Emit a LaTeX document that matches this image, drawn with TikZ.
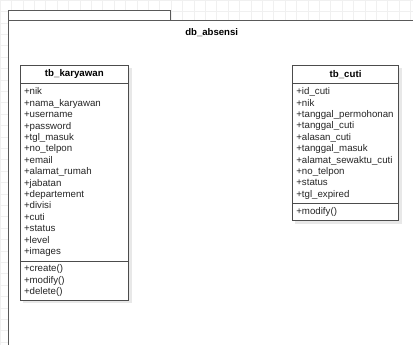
\documentclass[tikz,border=0pt]{standalone}
\usepackage{fontspec}
\setmainfont{Liberation Sans}
\usetikzlibrary{positioning,backgrounds}
\tikzset{
    umlhead/.style={draw=black!70, line width=0.9pt, fill=white, outer sep=0pt, inner sep=0pt, minimum height=18.4pt, font=\fontsize{9.7}{11}\selectfont\bfseries},
    umlpart/.style={draw=black!70, line width=0.9pt, fill=white, outer sep=0pt, inner xsep=4pt, inner ysep=0pt, align=left, font=\fontsize{9.7}{11.4}\selectfont, text=black!85},
    umlshadow/.style={fill=black!9},
    pkgline/.style={draw=black!65, line width=0.9pt, fill=white},
    gridline/.style={draw=black!6, line width=0.5pt}
}

\begin{document}
\begin{tikzpicture}[x=1pt, y=-1pt]
    \useasboundingbox (0,0) rectangle (413,345);

    \node[font=\fontsize{9.6}{11}\selectfont\bfseries] (title) at (211.7,32.3) {db\_absensi};

    % tb_karyawan
    \node[umlhead, minimum width=108.7pt, anchor=north] (karhead) at (74.35,65) {tb\_karyawan};
    \node[umlpart, text width=100.7pt, minimum height=177.6pt, below=0pt of karhead] (karattr) {+nik\\+nama\_karyawan\\+username\\+password\\+tgl\_masuk\\+no\_telpon\\+email\\+alamat\_rumah\\+jabatan\\+departement\\+divisi\\+cuti\\+status\\+level\\+images};
    \node[umlpart, text width=100.7pt, minimum height=39pt, below=0pt of karattr] (karmeth) {+create()\\+modify()\\+delete()};

    % tb_cuti
    \node[umlhead, minimum width=106.5pt, anchor=north] (cutihead) at (345.55,65) {tb\_cuti};
    \node[umlpart, text width=98.5pt, minimum height=120pt, below=0pt of cutihead] (cutiattr) {+id\_cuti\\+nik\\+tanggal\_permohonan\\+tanggal\_cuti\\+alasan\_cuti\\+tanggal\_masuk\\+alamat\_sewaktu\_cuti\\+no\_telpon\\+status\\+tgl\_expired};
    \node[umlpart, text width=98.5pt, minimum height=17.4pt, below=0pt of cutiattr] (cutimeth) {+modify()};

    \begin{pgfonlayer}{background}
        \draw[gridline, step=11.4pt] (0,0) grid (413,345);
        \draw[pkgline] (8,10) rectangle (170.7,20.5);
        \draw[pkgline] (8,20.5) rectangle (430,360);
        \fill[umlshadow] ([shift={(3pt,-3pt)}]karhead.north west) rectangle ([shift={(3pt,-3pt)}]karmeth.south east);
        \fill[umlshadow] ([shift={(3pt,-3pt)}]cutihead.north west) rectangle ([shift={(3pt,-3pt)}]cutimeth.south east);
    \end{pgfonlayer}
\end{tikzpicture}
\end{document}
